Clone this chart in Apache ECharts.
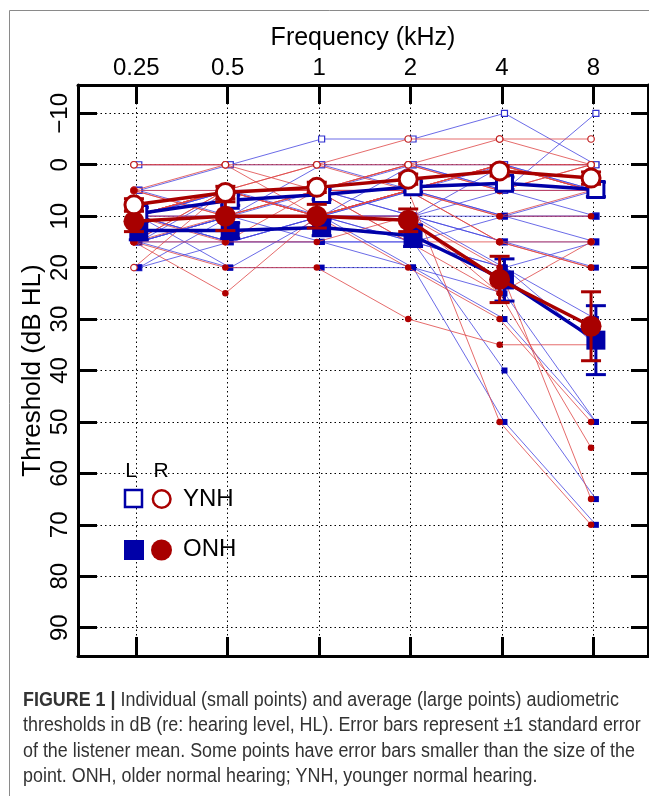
<!DOCTYPE html>
<html><head><meta charset="utf-8">
<script src="https://cdn.jsdelivr.net/npm/echarts@6/dist/echarts.min.js"></script>
<style>html,body{margin:0;padding:0;background:#fff;}#c{width:649px;height:796px;}</style>
</head><body><div id="c"></div>
<script>
// ---------- data ----------
const freqLabels = ['0.25', '0.5', '1', '2', '4', '8'];
const yTickValues = [-10, 0, 10, 20, 30, 40, 50, 60, 70, 80, 90];

// individual listeners (dB HL), one row per listener
const ynhRightEars = [
  [0, 0, 0, -5, -5, -5],
  [5, 0, 5, 0, 0, 0],
  [10, 5, 0, 0, -5, 0],
  [5, 10, 5, 5, 0, 0],
  [10, 5, 10, 5, 0, 5],
  [15, 15, 5, 15, 15, 15],
  [20, 5, 5, 0, 5, 0],
  [0, 0, 10, 5, 0, 5],
  [10, 5, 0, 5, 0, 5],
  [5, 10, 5, 0, 5, 0],
  [15, 5, 5, 5, 0, 5]
];
const ynhLeftEars = [
  [0, 0, -5, -5, -10, 0],
  [5, 0, 0, 0, 5, -10],
  [10, 5, 5, 0, 0, 5],
  [10, 10, 5, 5, 5, 5],
  [15, 10, 10, 5, 10, 10],
  [20, 10, 10, 10, 15, 15],
  [5, 5, 5, 10, 0, 0],
  [10, 15, 10, 10, 5, 10],
  [15, 5, 10, 0, 5, 5],
  [5, 10, 0, 5, 0, 5],
  [10, 5, 5, 5, 5, 5]
];
const onhRightEars = [
  [10, 10, 10, 5, 50, 70],
  [15, 20, 20, 30, 35, 35],
  [10, 5, 10, 20, 30, 50],
  [15, 25, 10, 10, 25, 55],
  [5, 5, 5, 5, 15, 20],
  [10, 5, 10, 5, 10, 10],
  [15, 5, 5, 5, 10, 5],
  [10, 5, 10, 5, 5, 5],
  [10, 15, 15, 10, 20, 65],
  [15, 10, 5, 15, 25, 15],
  [10, 5, 10, 5, 15, 20]
];
const onhLeftEars = [
  [15, 20, 20, 20, 50, 70],
  [20, 15, 15, 15, 40, 65],
  [10, 20, 10, 20, 25, 50],
  [15, 10, 15, 15, 20, 35],
  [10, 15, 10, 10, 15, 20],
  [15, 10, 10, 15, 10, 15],
  [10, 10, 10, 5, 10, 10],
  [10, 5, 5, 10, 10, 5],
  [15, 15, 15, 20, 30, 50],
  [10, 15, 10, 10, 20, 15],
  [15, 10, 10, 15, 20, 30]
];

// group means and standard errors
const meanYnhRight = [7.8, 5.4, 4.4, 2.8, 1.2, 2.6];
const meanYnhLeft = [9.5, 6.9, 5.8, 4.3, 3.6, 4.8];
const meanOnhRight = [11.0, 10.0, 10.0, 10.8, 22.3, 31.4];
const meanOnhLeft = [12.8, 12.8, 12.2, 13.8, 22.4, 34.1];
const seYnhRight = [1.2, 1.2, 1.0, 1.0, 1.0, 1.2];
const seYnhLeft = [1.2, 1.0, 1.0, 1.0, 1.2, 1.4];
const seOnhRight = [2.0, 2.8, 2.3, 2.2, 4.5, 6.7];
const seOnhLeft = [1.8, 1.5, 1.6, 2.1, 4.1, 6.7];

// ---------- styling ----------
const RED = '#a80000', BLUE = '#0000a8';
const RED_THIN = 'rgba(222,70,70,0.8)', BLUE_THIN = 'rgba(70,70,225,0.8)';
const OFF_R = -0.025, OFF_L = 0.028;
const FONT = "'Liberation Sans','DejaVu Sans',sans-serif";

const toPts = (vals, off) => vals.map((v, i) => [i + off, v]);
const toErr = (vals, se, off) => vals.map((v, i) => [i + off, v, se[i]]);

const series = [];

// dotted grid (markLine)
series.push({
  type: 'line', data: [], silent: true, symbol: 'none', z: 1,
  markLine: {
    silent: true, symbol: ['none', 'none'], z: 1, animation: false,
    label: { show: false },
    lineStyle: { color: '#000', width: 1, type: [1.5, 3] },
    emphasis: { disabled: true },
    data: freqLabels.map((f, i) => ({ xAxis: i })).concat(yTickValues.map(v => ({ yAxis: v })))
  }
});

function thin(rows, color, off, symbol, size, open, fillColor, z) {
  rows.forEach(r => {
    series.push({
      type: 'line', data: toPts(r, off), z: z, silent: true,
      symbol: symbol, symbolSize: size, showAllSymbol: true,
      lineStyle: { color: color, width: 1 },
      itemStyle: open ? { color: '#fff', borderColor: fillColor, borderWidth: 1.2 } : { color: fillColor, borderWidth: 0 },
      emphasis: { disabled: true }
    });
  });
}
thin(ynhLeftEars, BLUE_THIN, OFF_L, 'rect', 6, true, '#3030d0', 2);
thin(onhLeftEars, BLUE_THIN, OFF_L, 'rect', 6, false, '#0000b0', 2);
thin(ynhRightEars, RED_THIN, OFF_R, 'circle', 6.5, true, '#c02020', 3);
thin(onhRightEars, RED_THIN, OFF_R, 'circle', 6.5, false, '#b00000', 3);

function errSeries(vals, se, off, color, z) {
  return {
    type: 'custom', z: z, silent: true,
    data: toErr(vals, se, off),
    encode: { x: 0, y: 1 },
    renderItem: function (params, api) {
      const x = api.value(0), y = api.value(1), e = api.value(2);
      const a = api.coord([x, y - e]), b = api.coord([x, y + e]);
      const hw = 10;
      const st = { stroke: color, lineWidth: 3 };
      return {
        type: 'group', children: [
          { type: 'line', shape: { x1: a[0], y1: a[1], x2: b[0], y2: b[1] }, style: st },
          { type: 'line', shape: { x1: a[0] - hw, y1: a[1], x2: a[0] + hw, y2: a[1] }, style: st },
          { type: 'line', shape: { x1: b[0] - hw, y1: b[1], x2: b[0] + hw, y2: b[1] }, style: st }
        ]
      };
    }
  };
}
function avgSeries(vals, off, color, symbol, size, open, z) {
  return {
    type: 'line', data: toPts(vals, off), z: z, silent: true,
    symbol: symbol, symbolSize: size, showAllSymbol: true,
    lineStyle: { color: color, width: 3.5 },
    itemStyle: open ? { color: '#fff', borderColor: color, borderWidth: 3 } : { color: color, borderWidth: 0 },
    emphasis: { disabled: true }
  };
}
series.push(avgSeries(meanOnhLeft, OFF_L, BLUE, 'rect', 19, false, 10));
series.push(errSeries(meanOnhLeft, seOnhLeft, OFF_L, BLUE, 11));
series.push(errSeries(meanYnhLeft, seYnhLeft, OFF_L, BLUE, 11));
series.push(avgSeries(meanYnhLeft, OFF_L, BLUE, 'rect', 16, true, 12));
series.push(errSeries(meanOnhRight, seOnhRight, OFF_R, RED, 13));
series.push(avgSeries(meanOnhRight, OFF_R, RED, 'circle', 21, false, 14));
series.push(errSeries(meanYnhRight, seYnhRight, OFF_R, RED, 14));
series.push(avgSeries(meanYnhRight, OFF_R, RED, 'circle', 18, true, 15));

const axisLine = { show: true, onZero: false, lineStyle: { color: '#000', width: 3 } };
const xIdx = freqLabels.map((f, i) => i);
const XMIN = -0.637, XMAX = 5.598, YMIN = -15.5, YMAX = 95.5;

const CAP_SX = 0.895;
const capStyle = (txt, y) => ({
  type: 'text', x: 23, y: y, scaleX: CAP_SX, z: 20,
  style: {
    text: txt, font: "20px " + FONT, fill: '#333', textVerticalAlign: 'middle',
    rich: { b: { fontWeight: 'bold', fontFamily: FONT, fontSize: 20, fill: '#333' } }
  }
});

const option = {
  animation: false,
  backgroundColor: '#fff',
  grid: { left: 78, top: 85, width: 570, height: 571, containLabel: false },
  xAxis: [
    {
      type: 'value', position: 'top', min: XMIN, max: XMAX,
      name: 'Frequency (kHz)', nameLocation: 'middle', nameGap: 47, nameMoveOverlap: false,
      nameTextStyle: { fontFamily: FONT, fontSize: 25, color: '#000', verticalAlign: 'middle' },
      axisLine: axisLine,
      axisTick: { show: true, inside: true, length: 19, customValues: xIdx, lineStyle: { color: '#000', width: 3 } },
      axisLabel: { show: true, customValues: xIdx, formatter: v => freqLabels[Math.round(v)], fontFamily: FONT, fontSize: 24, color: '#000', margin: 5 },
      splitLine: { show: false }
    },
    {
      type: 'value', position: 'bottom', min: XMIN, max: XMAX,
      axisLine: axisLine,
      axisTick: { show: true, inside: true, length: 19, customValues: xIdx, lineStyle: { color: '#000', width: 3 } },
      axisLabel: { show: false }, splitLine: { show: false }
    }
  ],
  yAxis: [
    {
      type: 'value', position: 'left', inverse: true, min: YMIN, max: YMAX,
      name: 'Threshold (dB HL)', nameLocation: 'middle', nameGap: 45, nameRotate: 90, nameMoveOverlap: false,
      nameTextStyle: { fontFamily: FONT, fontSize: 26, color: '#000', verticalAlign: 'middle' },
      axisLine: axisLine,
      axisTick: { show: true, inside: true, length: 19, customValues: yTickValues, lineStyle: { color: '#000', width: 3 } },
      axisLabel: { show: true, customValues: yTickValues, rotate: 90, formatter: v => (v < 0 ? '\u2212' + Math.abs(v) : String(v)), fontFamily: FONT, fontSize: 24, color: '#000', margin: 6 },
      splitLine: { show: false }
    },
    {
      type: 'value', position: 'right', inverse: true, min: YMIN, max: YMAX,
      axisLine: axisLine,
      axisTick: { show: true, inside: true, length: 17, customValues: yTickValues, lineStyle: { color: '#000', width: 3 } },
      axisLabel: { show: false }, splitLine: { show: false }
    }
  ],
  series: series,
  graphic: [
    { type: 'rect', shape: { x: 9.5, y: 10.5, width: 700, height: 850 }, style: { fill: 'none', stroke: '#8a8a8a', lineWidth: 1 }, z: -1, silent: true },
    // legend
    { type: 'text', x: 131, y: 471, style: { text: 'L', font: "21px " + FONT, fill: '#000', textAlign: 'center', textVerticalAlign: 'middle' }, z: 20 },
    { type: 'text', x: 161, y: 471, style: { text: 'R', font: "21px " + FONT, fill: '#000', textAlign: 'center', textVerticalAlign: 'middle' }, z: 20 },
    { type: 'rect', shape: { x: 125, y: 490, width: 17, height: 17 }, style: { fill: '#fff', stroke: BLUE, lineWidth: 2.5 }, z: 20 },
    { type: 'circle', shape: { cx: 161.7, cy: 499, r: 8.8 }, style: { fill: '#fff', stroke: RED, lineWidth: 2.5 }, z: 20 },
    { type: 'text', x: 183, y: 499, style: { text: 'YNH', font: "24px " + FONT, fill: '#000', textAlign: 'left', textVerticalAlign: 'middle' }, z: 20 },
    { type: 'rect', shape: { x: 124, y: 540, width: 20, height: 20 }, style: { fill: BLUE }, z: 20 },
    { type: 'circle', shape: { cx: 161.5, cy: 550, r: 10.5 }, style: { fill: RED }, z: 20 },
    { type: 'text', x: 183, y: 549, style: { text: 'ONH', font: "24px " + FONT, fill: '#000', textAlign: 'left', textVerticalAlign: 'middle' }, z: 20 },
    // caption
    capStyle('{b|FIGURE 1 |} Individual (small points) and average (large points) audiometric', 700),
    capStyle('thresholds in dB (re: hearing level, HL). Error bars represent \u00b11 standard error', 725.5),
    capStyle('of the listener mean. Some points have error bars smaller than the size of the', 751),
    capStyle('point. ONH, older normal hearing; YNH, younger normal hearing.', 776.5)
  ]
};
const chart = echarts.init(document.getElementById('c'), null, { renderer: 'canvas' });
chart.setOption(option);
</script></body></html>
